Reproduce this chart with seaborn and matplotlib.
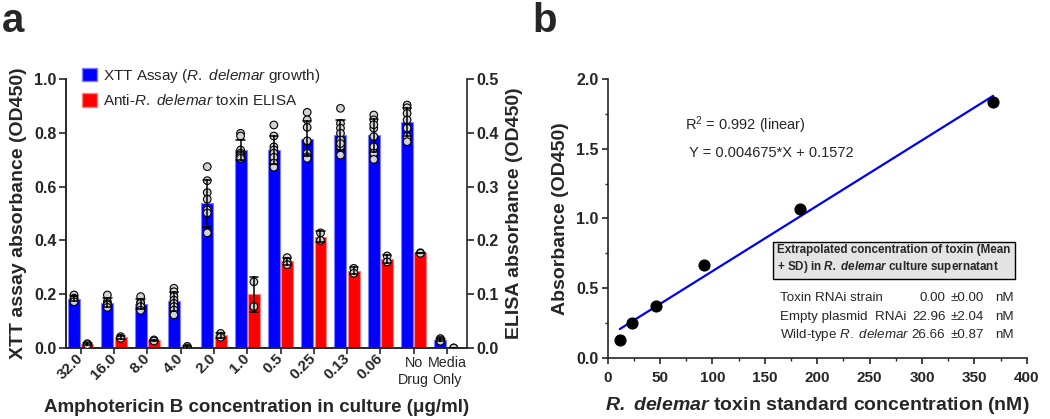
import matplotlib
matplotlib.use("Agg")
import matplotlib.pyplot as plt
import pandas as pd
import seaborn as sns
from matplotlib.patches import Patch
from matplotlib.ticker import FormatStrFormatter, MultipleLocator

# panel a: amphotericin B doses and replicate wells
doses = ['32.0', '16.0', '8.0', '4.0', '2.0', '1.0', '0.5', '0.25', '0.13', '0.06',
         'No\nDrug', 'Media\nOnly']

xtt_reps = [
    [0.197, 0.185, 0.180, 0.172],
    [0.197, 0.172, 0.165, 0.160, 0.151],
    [0.191, 0.170, 0.166, 0.154, 0.140],
    [0.222, 0.209, 0.191, 0.178, 0.166, 0.154, 0.141, 0.123],
    [0.674, 0.622, 0.578, 0.553, 0.513, 0.502, 0.431, 0.428],
    [0.798, 0.788, 0.736, 0.724, 0.718, 0.711, 0.712, 0.705],
    [0.829, 0.788, 0.748, 0.736, 0.724, 0.709, 0.687, 0.672],
    [0.876, 0.848, 0.820, 0.767, 0.724, 0.711, 0.705, 0.770],
    [0.891, 0.835, 0.817, 0.798, 0.773, 0.748, 0.717, 0.760],
    [0.866, 0.848, 0.817, 0.786, 0.748, 0.724, 0.701, 0.830],
    [0.903, 0.893, 0.872, 0.848, 0.817, 0.786, 0.767],
    [0.035, 0.030, 0.025],
]

elisa_reps = [
    [0.008, 0.006],
    [0.021, 0.018],
    [0.015, 0.013],
    [0.003, 0.000],
    [0.027, 0.020],
    [0.123, 0.077],
    [0.168, 0.160, 0.155],
    [0.214, 0.200],
    [0.148, 0.139],
    [0.171, 0.160],
    [0.177, 0.176],
    [0.000, 0.000],
]

# panel b: toxin standard curve
std_conc = [11.5, 23, 46, 92, 184, 368]
std_abs = [0.129, 0.249, 0.373, 0.664, 1.066, 1.837]

strains = ['Toxin RNAi strain', 'Empty plasmid  RNAi', 'Wild-type $\\mathit{R.\\ delemar}$']
conc_mean = [0.00, 22.96, 26.66]
conc_sd = [0.00, 2.04, 0.87]

sns.set_style('ticks')
plt.rcParams['font.family'] = ['Liberation Sans', 'DejaVu Sans']
plt.rcParams['mathtext.fontset'] = 'custom'
plt.rcParams['mathtext.rm'] = 'Liberation Sans'
plt.rcParams['mathtext.it'] = 'Liberation Sans:italic'
plt.rcParams['mathtext.bf'] = 'Liberation Sans:bold'
plt.rcParams['mathtext.bfit'] = 'Liberation Sans:italic:bold'
plt.rcParams['axes.linewidth'] = 1.2

rows = [(d, 'XTT', v) for d, reps in zip(doses, xtt_reps) for v in reps]
rows += [(d, 'ELISA', v) for d, reps in zip(doses, elisa_reps) for v in reps]
df = pd.DataFrame(rows, columns=['dose', 'assay', 'value'])

hue_order = ['XTT', 'ELISA']
bar_pal = {'XTT': '#0000ff', 'ELISA': '#ff0000'}
edge_pal = {'XTT': '#8080ff', 'ELISA': '#ff8080'}
dot_pal = {'XTT': '#d3d3d3', 'ELISA': '#d3d3d3'}

fig = plt.figure(figsize=(10.5, 4.19), dpi=100)
ax = fig.add_axes([0.0629, 0.1695, 0.3819, 0.642])
ax2 = ax.twinx()

for axis, assay in [(ax, 'XTT'), (ax2, 'ELISA')]:
    sub = df[df['assay'] == assay]
    sns.barplot(data=sub, x='dose', y='value', hue='assay', hue_order=hue_order,
                order=doses, palette=bar_pal, saturation=1, dodge=True, width=0.8, gap=0.1,
                errorbar='sd', capsize=0.5,
                err_kws={'color': 'black', 'linewidth': 1.1},
                legend=False, ax=axis)
    sns.stripplot(data=sub, x='dose', y='value', hue='assay', hue_order=hue_order,
                  order=doses, palette=dot_pal, dodge=True, jitter=False, size=5.5,
                  edgecolor='black', linewidth=0.8, legend=False, ax=axis)
    for p in axis.patches:
        p.set_edgecolor(edge_pal[assay])
        p.set_linewidth(0.8)
    for c in axis.collections:
        c.set_zorder(3)
    for ln in axis.lines:
        ln.set_zorder(4)
    axis.set_xlabel('')
    axis.set_ylabel('')

ax.set_xlim(-0.44, 11.6)
ax.set_ylim(0, 1.0)
ax2.set_ylim(0, 0.5)
ax.set_yticks([0, 0.2, 0.4, 0.6, 0.8, 1.0])
ax2.set_yticks([0, 0.1, 0.2, 0.3, 0.4, 0.5])
ax.yaxis.set_major_formatter(FormatStrFormatter('%.1f'))
ax2.yaxis.set_major_formatter(FormatStrFormatter('%.1f'))
ax.spines['top'].set_visible(False)
ax.spines['right'].set_visible(False)
ax2.spines['top'].set_visible(False)
for a in (ax, ax2):
    a.tick_params(axis='y', length=5, width=1.2, labelsize=11.5, pad=2)
    a.tick_params(axis='x', length=4, width=1.2, labelsize=11, pad=2)
    for lab in a.get_yticklabels():
        lab.set_fontweight('bold')

ax.set_xticks(range(len(doses)))
ax.set_xticklabels(doses)
for lab in ax.get_xticklabels():
    if '\n' in lab.get_text():
        lab.set_rotation(0)
        lab.set_ha('center')
        lab.set_fontweight('normal')
        lab.set_fontsize(10.3)
    else:
        lab.set_rotation(45)
        lab.set_ha('right')
        lab.set_va('center')
        lab.set_rotation_mode('anchor')
        lab.set_fontweight('bold')
        lab.set_fontsize(11)

ax.set_xlabel('Amphotericin B concentration in culture (\u03bcg/ml)',
              fontsize=13.5, fontweight='bold')
ax.xaxis.set_label_coords(0.476, -0.19)
ax.set_ylabel('XTT assay absorbance (OD450)', fontsize=14, fontweight='bold', labelpad=5)
ax2.set_ylabel('ELISA absorbance (OD450)', fontsize=14, fontweight='bold', labelpad=5)

handles = [Patch(facecolor=bar_pal['XTT'], edgecolor=edge_pal['XTT']),
           Patch(facecolor=bar_pal['ELISA'], edgecolor=edge_pal['ELISA'])]
labels = ['XTT Assay ($\\mathit{R.\\ delemar}$ growth)',
          'Anti-$\\mathit{R.\\ delemar}$ toxin ELISA']
ax.legend(handles, labels, loc='upper left', bbox_to_anchor=(0.04, 1.045),
          frameon=False, fontsize=11, handlelength=1.0, handleheight=1.0,
          handletextpad=0.35, labelspacing=0.55, borderpad=0, borderaxespad=0)

# panel b
bx = fig.add_axes([0.5788, 0.1456, 0.399, 0.666])
sns.regplot(x=std_conc, y=std_abs, ci=None, truncate=True, ax=bx,
            scatter_kws={'color': 'black', 's': 60, 'alpha': 1, 'zorder': 3},
            line_kws={'color': '#0000ff', 'linewidth': 1.6})
bx.set_xlim(0, 400)
bx.set_ylim(0, 2.0)
bx.xaxis.set_major_locator(MultipleLocator(50))
bx.xaxis.set_minor_locator(MultipleLocator(25))
bx.yaxis.set_major_locator(MultipleLocator(0.5))
bx.yaxis.set_minor_locator(MultipleLocator(0.25))
bx.yaxis.set_major_formatter(FormatStrFormatter('%.1f'))
bx.spines['top'].set_visible(False)
bx.spines['right'].set_visible(False)
bx.tick_params(which='major', length=4.5, width=1.2, pad=2)
bx.tick_params(axis='x', which='major', labelsize=11, pad=5)
bx.tick_params(axis='y', which='major', labelsize=11.5)
bx.tick_params(which='minor', length=2.5, width=1.0)
for lab in bx.get_xticklabels() + bx.get_yticklabels():
    lab.set_fontweight('bold')
bx.set_xlabel('$\\mathbfit{R.\\ delemar}$ toxin standard concentration (nM)',
              fontsize=14, fontweight='bold', labelpad=7)
bx.set_ylabel('Absorbance (OD450)', fontsize=14, fontweight='bold', labelpad=5)

bx.text(74, 1.67, 'R$^2$ = 0.992 (linear)', fontsize=10.5, va='center')
bx.text(77.5, 1.47, 'Y = 0.004675*X + 0.1572', fontsize=10.5, va='center')

bx.text(0.405, 0.353,
        'Extrapolated concentration of toxin (Mean\n+ SD) in $\\mathbfit{R.\\ delemar}$ culture supernatant',
        transform=bx.transAxes, fontsize=8.4, fontweight='bold', va='center', ha='left',
        linespacing=1.2,
        bbox=dict(boxstyle='square,pad=0.35', facecolor='#e4e4e4', edgecolor='black', linewidth=1.0))

row_y = [0.215, 0.148, 0.083]
for yy, name, m, s in zip(row_y, strains, conc_mean, conc_sd):
    bx.text(0.41, yy, name, transform=bx.transAxes, fontsize=9.6, va='center', ha='left')
    bx.text(0.806, yy, f'{m:.2f}', transform=bx.transAxes, fontsize=9.6, va='center', ha='right')
    bx.text(0.818, yy, f'\u00b1{s:.2f}', transform=bx.transAxes, fontsize=9.6, va='center', ha='left')
    bx.text(0.925, yy, 'nM', transform=bx.transAxes, fontsize=9.6, va='center', ha='left')

fig.text(0.002, 0.995, 'a', fontsize=29, fontweight='bold', va='top', ha='left')
fig.text(0.507, 0.995, 'b', fontsize=29, fontweight='bold', va='top', ha='left')

fig.savefig('out.png', dpi=100)
